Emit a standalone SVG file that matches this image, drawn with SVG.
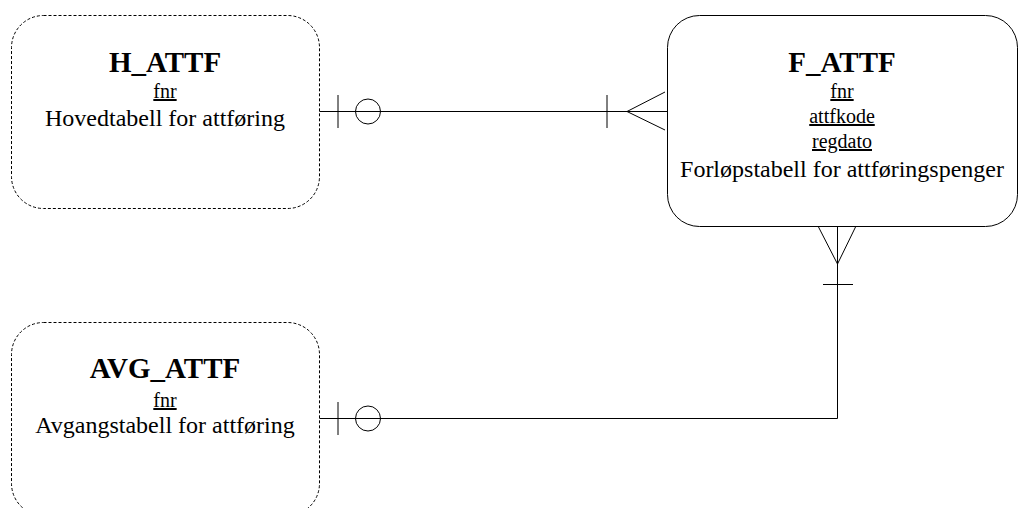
<svg xmlns="http://www.w3.org/2000/svg" width="1018" height="508" viewBox="0 0 1018 508">
<style>
.box{fill:#fff;stroke:#000;stroke-width:1}
.dash{stroke-dasharray:3 2}
.t{font-family:"Liberation Serif","Times New Roman",serif;text-anchor:middle;fill:#000}
.title{font-size:29px;font-weight:bold}
.key{font-size:20px;text-decoration:underline}
.desc{font-size:24px}
.ln{fill:none;stroke:#000;stroke-width:1}
</style>
<rect width="1018" height="508" fill="#fff"/>
<g id="connectors">
  <line class="ln" x1="319" y1="111.5" x2="667" y2="111.5"/>
  <line class="ln" x1="338" y1="95" x2="338" y2="128"/>
  <circle class="ln" cx="368" cy="111.5" r="12.5" fill="#fff"/>
  <line class="ln" x1="607" y1="95" x2="607" y2="128"/>
  <polyline class="ln" points="665,92 627,111.5 665,130"/>
  <polyline class="ln" points="837.5,226 837.5,418.5 319,418.5"/>
  <polyline class="ln" points="818,226 837.5,264 856,226"/>
  <line class="ln" x1="823" y1="284.5" x2="853" y2="284.5"/>
  <line class="ln" x1="338" y1="402" x2="338" y2="435"/>
  <circle class="ln" cx="368" cy="418.5" r="12.5" fill="#fff"/>
</g>
<g id="H_ATTF">
  <rect class="box dash" x="11.5" y="15.5" width="308" height="193" rx="32" ry="32"/>
  <text class="t title" x="165" y="72">H_ATTF</text>
  <text class="t key" x="165" y="98">fnr</text>
  <text class="t desc" x="165" y="126">Hovedtabell for attføring</text>
</g>
<g id="F_ATTF">
  <rect class="box" x="667.5" y="15.5" width="350" height="211" rx="32" ry="32"/>
  <text class="t title" x="842" y="72">F_ATTF</text>
  <text class="t key" x="842" y="98">fnr</text>
  <text class="t key" x="842" y="123">attfkode</text>
  <text class="t key" x="842" y="148">regdato</text>
  <text class="t desc" x="842" y="177">Forløpstabell for attføringspenger</text>
</g>
<g id="AVG_ATTF">
  <rect class="box dash" x="11.5" y="322.5" width="308" height="193" rx="32" ry="32"/>
  <text class="t title" x="165" y="378">AVG_ATTF</text>
  <text class="t key" x="165" y="407">fnr</text>
  <text class="t desc" x="165" y="433">Avgangstabell for attføring</text>
</g>
</svg>
